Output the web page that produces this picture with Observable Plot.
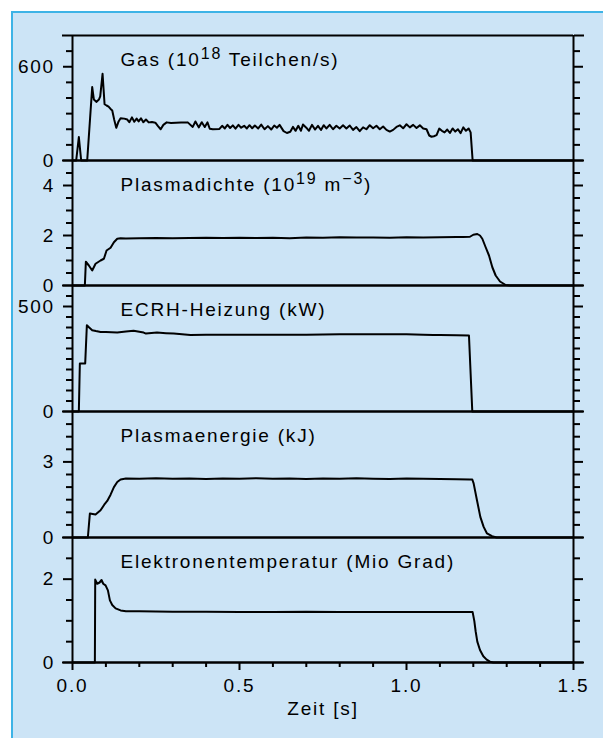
<!DOCTYPE html>
<html><head><meta charset="utf-8">
<script src="https://cdn.jsdelivr.net/npm/d3@7"></script>
<script src="https://cdn.jsdelivr.net/npm/@observablehq/plot@0.6"></script>
<style>
html,body{margin:0;padding:0;background:#fff;}
#wrap{position:relative;width:603px;height:738px;overflow:hidden;background:#fff;color:#000;}
#box{position:absolute;left:11px;top:11px;width:700px;height:800px;background:#cce4f6;border-left:2px solid #3db3e6;border-top:2px solid #3db3e6;}
#wrap svg{position:absolute;left:0;}
</style></head><body><div id="wrap"><div id="box"></div></div>
<script>
// ---- data (time in s) ----
const gasT = [0,0.011,0.019,0.026,0.044,0.059,0.064,0.072,0.079,0.083,0.090,0.096,0.102,0.108,0.114,0.119,0.125,0.131,0.138,0.144,0.155,0.164,0.170,0.178,0.185,0.192,0.198,0.205,0.212,0.220,0.228,0.238,0.248,0.256,0.264,0.272,0.282,0.295,0.31,0.325,0.345,0.36,0.368,0.378,0.387,0.396,0.404,0.411,0.42,0.44,0.448,0.456,0.464,0.472,0.48,0.488,0.497,0.505,0.514,0.522,0.53,0.538,0.546,0.556,0.565,0.575,0.585,0.595,0.604,0.612,0.62,0.632,0.642,0.652,0.66,0.668,0.676,0.684,0.69,0.70,0.708,0.717,0.726,0.735,0.744,0.752,0.76,0.77,0.78,0.79,0.80,0.81,0.82,0.83,0.84,0.85,0.86,0.87,0.88,0.89,0.90,0.91,0.92,0.93,0.94,0.95,0.96,0.97,0.98,0.99,1.00,1.01,1.02,1.03,1.04,1.05,1.06,1.068,1.075,1.082,1.09,1.098,1.106,1.114,1.122,1.13,1.138,1.146,1.154,1.162,1.17,1.178,1.186,1.192,1.198,1.5];
const gasV = [0,0,150,0,0,470,390,375,390,410,555,360,352,345,330,320,260,209,250,270,268,262,245,276,248,268,250,270,245,262,244,246,242,220,200,228,244,240,242,243,244,215,250,212,245,214,244,203,200,202,222,205,228,208,225,204,228,210,222,205,226,206,224,205,230,200,220,198,224,210,228,188,176,184,215,190,222,190,230,210,190,228,198,222,195,226,205,228,200,222,205,225,205,224,196,214,188,212,200,226,206,222,200,218,196,185,196,215,225,206,232,212,228,208,225,205,200,160,152,155,162,204,190,180,198,176,205,185,200,175,212,190,205,180,0,0];

const dichteT = [0,0.037,0.040,0.049,0.059,0.069,0.084,0.094,0.102,0.114,0.124,0.134,0.144,0.16,0.2,0.25,0.3,0.35,0.4,0.45,0.5,0.55,0.6,0.65,0.7,0.75,0.8,0.85,0.9,0.95,1.0,1.05,1.1,1.15,1.17,1.19,1.2,1.212,1.22,1.227,1.237,1.247,1.257,1.267,1.28,1.297,1.31,1.5];
const dichteV = [0,0,0.95,0.8,0.6,0.87,1.0,1.07,1.4,1.51,1.73,1.87,1.89,1.88,1.89,1.9,1.89,1.9,1.91,1.9,1.91,1.9,1.91,1.89,1.92,1.91,1.93,1.92,1.92,1.91,1.93,1.92,1.93,1.94,1.94,1.95,2.03,2.06,2.0,1.87,1.53,1.2,0.73,0.4,0.16,0.02,0,0];

const ecrhT = [0,0.019,0.022,0.038,0.043,0.05,0.059,0.07,0.084,0.1,0.134,0.16,0.183,0.2,0.213,0.22,0.253,0.28,0.303,0.353,0.4,0.5,0.6,0.7,0.8,0.9,1.0,1.05,1.08,1.1,1.15,1.187,1.197,1.5];
const ecrhV = [0,0,229,229,411,400,387,383,379,378,376,381,384,380,376,371,376,373,371,364,366,366,366,366,368,368,368,366,364,364,363,362,0,0];

const energieT = [0,0.046,0.052,0.069,0.084,0.095,0.104,0.114,0.124,0.134,0.144,0.16,0.2,0.25,0.3,0.35,0.4,0.45,0.5,0.55,0.6,0.65,0.7,0.75,0.8,0.85,0.9,0.95,1.0,1.05,1.1,1.15,1.19,1.197,1.201,1.211,1.221,1.231,1.241,1.256,1.27,1.5];
const energieV = [0,0,0.95,0.91,1.08,1.3,1.45,1.7,2.0,2.2,2.3,2.34,2.33,2.35,2.33,2.34,2.32,2.34,2.33,2.35,2.33,2.34,2.32,2.34,2.33,2.35,2.33,2.32,2.34,2.33,2.32,2.31,2.3,2.3,2.15,1.48,0.82,0.42,0.16,0.05,0,0];

const tempT = [0,0.067,0.068,0.074,0.081,0.087,0.092,0.099,0.106,0.112,0.119,0.129,0.144,0.16,0.2,0.3,0.4,0.5,0.6,0.7,0.8,0.9,1.0,1.1,1.15,1.198,1.203,1.207,1.212,1.22,1.23,1.24,1.25,1.26,1.5];
const tempV = [0,0,1.99,1.89,1.92,1.98,1.89,1.85,1.73,1.49,1.38,1.3,1.25,1.23,1.23,1.22,1.22,1.21,1.21,1.22,1.21,1.21,1.21,1.21,1.21,1.21,1.0,0.75,0.5,0.3,0.15,0.07,0.02,0,0];

const titles = ["Gas (10{18} Teilchen/s)", "Plasmadichte (10{19} m{\u22123})", "ECRH-Heizung (kW)", "Plasmaenergie (kJ)", "Elektronentemperatur (Mio Grad)"];
const yMax = [800, 5, 600, 5, 3];
const yStep = [100, 0.5, 50, 0.5, 0.5];
const yLabels = [[0, 600], [0, 2, 4], [0, 500], [0, 3], [0, 2]];
const xMajor = [0, 0.5, 1.0, 1.5];
const xMinor = [0.1, 0.2, 0.3, 0.4, 0.6, 0.7, 0.8, 0.9, 1.1, 1.2, 1.3, 1.4];
const xLabel = "Zeit [s]";

const series = [[gasT, gasV], [dichteT, dichteV], [ecrhT, ecrhV], [energieT, energieV], [tempT, tempV]];
const edges = [35, 160, 285, 411, 537, 662];

const wrap = document.getElementById("wrap");
const ns = "http://www.w3.org/2000/svg";

series.forEach(([T, V], k) => {
  const last = k === series.length - 1;
  const mt = 20, mb = last ? 70 : 20;
  const h = edges[k + 1] - edges[k];
  const n = Math.round(yMax[k] / yStep[k]);
  const all = d3.range(0, n + 1).map(i => +(i * yStep[k]).toFixed(3));
  const minor = all.filter(v => !yLabels[k].includes(v) && v !== 0 && v !== yMax[k]);
  const edgeTicks = k === 0 ? [0, yMax[k]] : [0];
  const blank = () => "";
  const marks = [
    Plot.ruleY([0], {strokeWidth: 2.5}),
    Plot.ruleX([0, 1.5], {strokeWidth: 2}),
    Plot.axisY({anchor: "left", ticks: minor, tickSize: 6, tickFormat: blank, strokeWidth: 2, label: null}),
    Plot.axisY({anchor: "right", ticks: minor, tickSize: 6, tickFormat: blank, strokeWidth: 2, label: null}),
    Plot.axisY({anchor: "left", ticks: edgeTicks, tickSize: 10, tickFormat: blank, strokeWidth: 2, label: null}),
    Plot.axisY({anchor: "right", ticks: edgeTicks, tickSize: 10, tickFormat: blank, strokeWidth: 2, label: null}),
    Plot.axisY({anchor: "left", ticks: yLabels[k], tickSize: 9, tickFormat: blank, strokeWidth: 2, label: null}),
    Plot.axisY({anchor: "right", ticks: yLabels[k], tickSize: 9, tickFormat: blank, strokeWidth: 2, label: null}),
    Plot.text(yLabels[k], {x: 0, y: d => d, text: d => String(d), textAnchor: "end", dx: -17.5}),
    Plot.line(V, {x: T, y: V, stroke: "#000", strokeWidth: 2, strokeLinejoin: "round"}),
    Plot.text([titles[k]], {text: d => d, frameAnchor: "top-left", textAnchor: "start", lineAnchor: "top", dx: 48, dy: 16.5})
  ];
  if (k === 0) marks.push(Plot.ruleY([yMax[k]], {strokeWidth: 2}));
  if (last) {
    marks.push(
      Plot.axisX({anchor: "bottom", ticks: xMinor, tickSize: 5, tickFormat: blank, strokeWidth: 2, label: null}),
      Plot.axisX({anchor: "bottom", ticks: xMajor, tickSize: 8, tickPadding: 8, tickFormat: d3.format(".1f"), strokeWidth: 2, label: null}),
      Plot.text([xLabel], {text: d => d, frameAnchor: "bottom", lineAnchor: "top", dy: 38.5})
    );
  }
  const svg = Plot.plot({
    width: 603,
    height: h + mt + mb,
    marginLeft: 72, marginRight: 30, marginTop: mt, marginBottom: mb,
    x: last ? {domain: [0, 1.5]} : {domain: [0, 1.5], axis: null},
    y: {domain: [0, yMax[k]]},
    style: {fontFamily: "'Liberation Sans', Arial, sans-serif", fontSize: "19px", letterSpacing: "1.8px", background: "transparent", overflow: "visible"},
    marks
  });
  svg.style.position = "absolute";
  svg.style.left = "0px";
  svg.style.top = (edges[k] - mt) + "px";
  // superscripts in titles
  svg.querySelectorAll("text").forEach(t => {
    const s = t.textContent;
    if (!s.includes("{")) return;
    t.textContent = "";
    let raised = false;
    s.split(/(\{[^}]*\})/).forEach(part => {
      if (!part) return;
      const ts = document.createElementNS(ns, "tspan");
      if (part.startsWith("{")) {
        ts.textContent = part.slice(1, -1);
        ts.setAttribute("font-size", "16");
        ts.setAttribute("dy", "-7");
        raised = true;
      } else {
        ts.textContent = part;
        if (raised) { ts.setAttribute("dy", "7"); raised = false; }
      }
      t.appendChild(ts);
    });
  });
  wrap.appendChild(svg);
});
</script>
</body></html>
